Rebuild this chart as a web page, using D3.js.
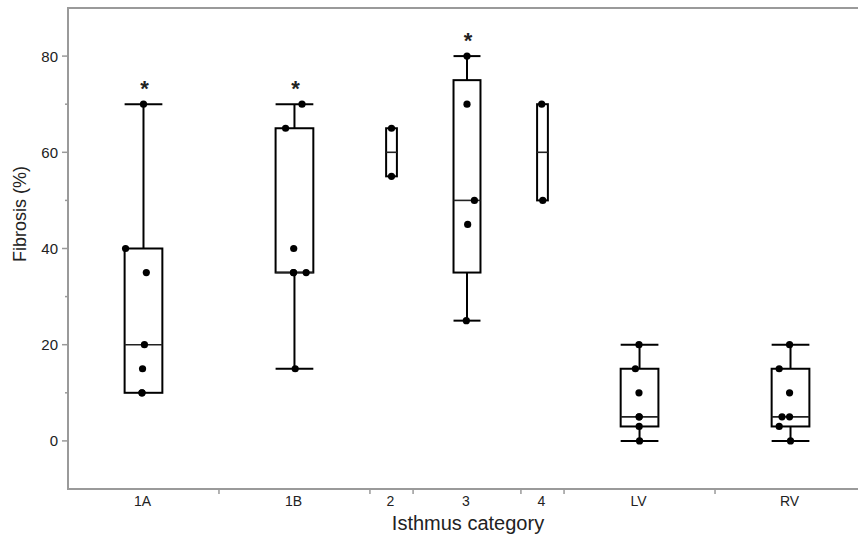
<!DOCTYPE html>
<html>
<head>
<meta charset="utf-8">
<script src="https://cdn.jsdelivr.net/npm/d3@7"></script>
<style>
  body { margin: 0; background: #fff; }
  svg { display: block; }
  text { font-family: "Liberation Sans", Arial, Helvetica, sans-serif; }
</style>
</head>
<body>
<div id="chart"></div>
<script>
// categories and their sample sizes (JMP draws each column width proportional to n)
var categories = ["1A", "1B", "2", "3", "4", "LV", "RV"];
var counts = [7, 7, 2, 5, 2, 7, 7];

// fibrosis values per category
var values1A = [70, 40, 35, 20, 15, 10, 10];
var values1B = [70, 65, 40, 35, 35, 35, 15];
var values2 = [65, 55];
var values3 = [80, 70, 50, 45, 25];
var values4 = [70, 50];
var valuesLV = [20, 15, 10, 5, 5, 3, 0];
var valuesRV = [20, 15, 10, 5, 5, 3, 0];

// horizontal spread of the dots, as a fraction of the box half width
var jitter1A = [0, -0.95, 0.15, 0.05, -0.05, -0.08, -0.08];
var jitter1B = [0.4, -0.47, -0.04, -0.05, 0.62, -0.05, 0.04];
var jitter2 = [0, 0];
var jitter3 = [0, 0, 0.55, 0.05, -0.05];
var jitter4 = [-0.15, 0.05];
var jitterLV = [-0.03, -0.22, -0.03, -0.02, -0.02, -0.02, 0];
var jitterRV = [-0.05, -0.6, -0.05, -0.45, -0.05, -0.6, 0];

var significant = ["1A", "1B", "3"];

var yTicks = [0, 20, 40, 60, 80];
var yMinorTicks = [10, 30, 50, 70];

var allValues = [values1A, values1B, values2, values3, values4, valuesLV, valuesRV];
var allJitter = [jitter1A, jitter1B, jitter2, jitter3, jitter4, jitterLV, jitterRV];

var width = 858, height = 543;
var plotLeft = 68, plotRight = 866, plotTop = 8, plotBottom = 489;

var svg = d3.select("#chart").append("svg")
    .attr("width", width)
    .attr("height", height);

// x scale in units of n
var x = d3.scaleLinear().domain([0, d3.sum(counts)]).range([plotLeft, plotRight]);
var y = d3.scaleLinear().domain([-10, 90]).range([plotBottom, plotTop]);

// JMP style quantile: position (n+1)p, 1-based
function quant(sorted, p) {
    var pos = (sorted.length + 1) * p;
    if (pos <= 1) return sorted[0];
    if (pos >= sorted.length) return sorted[sorted.length - 1];
    var lo = Math.floor(pos), f = pos - lo;
    return sorted[lo - 1] + f * (sorted[lo] - sorted[lo - 1]);
}

var starts = Array.from(d3.cumsum([0].concat(counts)));
var groups = categories.map(function (c, i) {
    var s = allValues[i].slice().sort(d3.ascending);
    var q1 = quant(s, 0.25), med = quant(s, 0.5), q3 = quant(s, 0.75);
    var iqr = q3 - q1;
    var lowW = d3.min(s.filter(function (v) { return v >= q1 - 1.5 * iqr; }));
    var highW = d3.max(s.filter(function (v) { return v <= q3 + 1.5 * iqr; }));
    return {
        name: c, i: i,
        cx: x(starts[i] + counts[i] / 2),
        half: (x(starts[i + 1]) - x(starts[i])) / 8,
        q1: q1, med: med, q3: q3, lo: lowW, hi: highW,
        values: allValues[i], jitter: allJitter[i]
    };
});

// frame: left, top and bottom edges (right edge falls outside the picture)
svg.append("path")
    .attr("d", "M" + width + "," + plotTop + "H" + plotLeft + "V" + plotBottom + "H" + width)
    .attr("fill", "none")
    .attr("stroke", "#9a9a9a")
    .attr("stroke-width", 2);

// y axis ticks
svg.selectAll(".ytick").data(yTicks).join("line")
    .attr("x1", plotLeft - 6).attr("x2", plotLeft)
    .attr("y1", function (d) { return y(d); })
    .attr("y2", function (d) { return y(d); })
    .attr("stroke", "#9a9a9a").attr("stroke-width", 1.5);
svg.selectAll(".yminor").data(yMinorTicks).join("line")
    .attr("x1", plotLeft - 3).attr("x2", plotLeft)
    .attr("y1", function (d) { return y(d); })
    .attr("y2", function (d) { return y(d); })
    .attr("stroke", "#9a9a9a").attr("stroke-width", 1.5);
svg.selectAll(".ylab").data(yTicks).join("text")
    .attr("x", plotLeft - 10)
    .attr("y", function (d) { return y(d); })
    .attr("dy", "0.36em")
    .attr("text-anchor", "end")
    .attr("font-size", 15)
    .attr("fill", "#222")
    .text(function (d) { return d; });

svg.append("text")
    .attr("transform", "translate(26,214) rotate(-90)")
    .attr("text-anchor", "middle")
    .attr("font-size", 18)
    .attr("fill", "#222")
    .text("Fibrosis (%)");

// x axis separators and labels
svg.selectAll(".xsep").data(starts.slice(1, -1)).join("line")
    .attr("x1", function (d) { return x(d); })
    .attr("x2", function (d) { return x(d); })
    .attr("y1", plotBottom).attr("y2", plotBottom + 5)
    .attr("stroke", "#9a9a9a").attr("stroke-width", 1.5);
svg.selectAll(".xlab").data(groups).join("text")
    .attr("x", function (d) { return d.cx - 1; })
    .attr("y", plotBottom + 17)
    .attr("text-anchor", "middle")
    .attr("font-size", 14)
    .attr("fill", "#222")
    .text(function (d) { return d.name; });

svg.append("text")
    .attr("x", 468)
    .attr("y", plotBottom + 41)
    .attr("text-anchor", "middle")
    .attr("font-size", 20)
    .attr("fill", "#222")
    .text("Isthmus category");

// boxes
var g = svg.selectAll(".box").data(groups).join("g");

g.filter(function (d) { return d.hi > d.q3; }).append("line")
    .attr("x1", function (d) { return d.cx; }).attr("x2", function (d) { return d.cx; })
    .attr("y1", function (d) { return y(d.q3); }).attr("y2", function (d) { return y(d.hi); })
    .attr("stroke", "#000").attr("stroke-width", 2);
g.filter(function (d) { return d.lo < d.q1; }).append("line")
    .attr("x1", function (d) { return d.cx; }).attr("x2", function (d) { return d.cx; })
    .attr("y1", function (d) { return y(d.q1); }).attr("y2", function (d) { return y(d.lo); })
    .attr("stroke", "#000").attr("stroke-width", 2);
g.filter(function (d) { return d.hi > d.q3; }).append("line")
    .attr("x1", function (d) { return d.cx - d.half; }).attr("x2", function (d) { return d.cx + d.half; })
    .attr("y1", function (d) { return y(d.hi); }).attr("y2", function (d) { return y(d.hi); })
    .attr("stroke", "#000").attr("stroke-width", 2);
g.filter(function (d) { return d.lo < d.q1; }).append("line")
    .attr("x1", function (d) { return d.cx - d.half; }).attr("x2", function (d) { return d.cx + d.half; })
    .attr("y1", function (d) { return y(d.lo); }).attr("y2", function (d) { return y(d.lo); })
    .attr("stroke", "#000").attr("stroke-width", 2);

g.append("rect")
    .attr("x", function (d) { return d.cx - d.half; })
    .attr("y", function (d) { return y(d.q3); })
    .attr("width", function (d) { return 2 * d.half; })
    .attr("height", function (d) { return y(d.q1) - y(d.q3); })
    .attr("fill", "none")
    .attr("stroke", "#000").attr("stroke-width", 2);

g.append("line")
    .attr("x1", function (d) { return d.cx - d.half; }).attr("x2", function (d) { return d.cx + d.half; })
    .attr("y1", function (d) { return y(d.med); }).attr("y2", function (d) { return y(d.med); })
    .attr("stroke", "#222").attr("stroke-width", 1.6);

// dots
g.selectAll("circle")
    .data(function (d) {
        return d.values.map(function (v, k) {
            return { v: v, cx: d.cx + d.jitter[k] * d.half };
        });
    })
    .join("circle")
    .attr("cx", function (p) { return p.cx; })
    .attr("cy", function (p) { return y(p.v); })
    .attr("r", 3.6)
    .attr("fill", "#000");

// significance marks
svg.selectAll(".star").data(groups.filter(function (d) { return significant.indexOf(d.name) >= 0; }))
    .join("text")
    .attr("x", function (d) { return d.cx + 1; })
    .attr("y", function (d) { return y(d.hi) - 8; })
    .attr("text-anchor", "middle")
    .attr("font-size", 22)
    .attr("font-weight", "bold")
    .attr("fill", "#222")
    .text("*");
</script>
</body>
</html>
